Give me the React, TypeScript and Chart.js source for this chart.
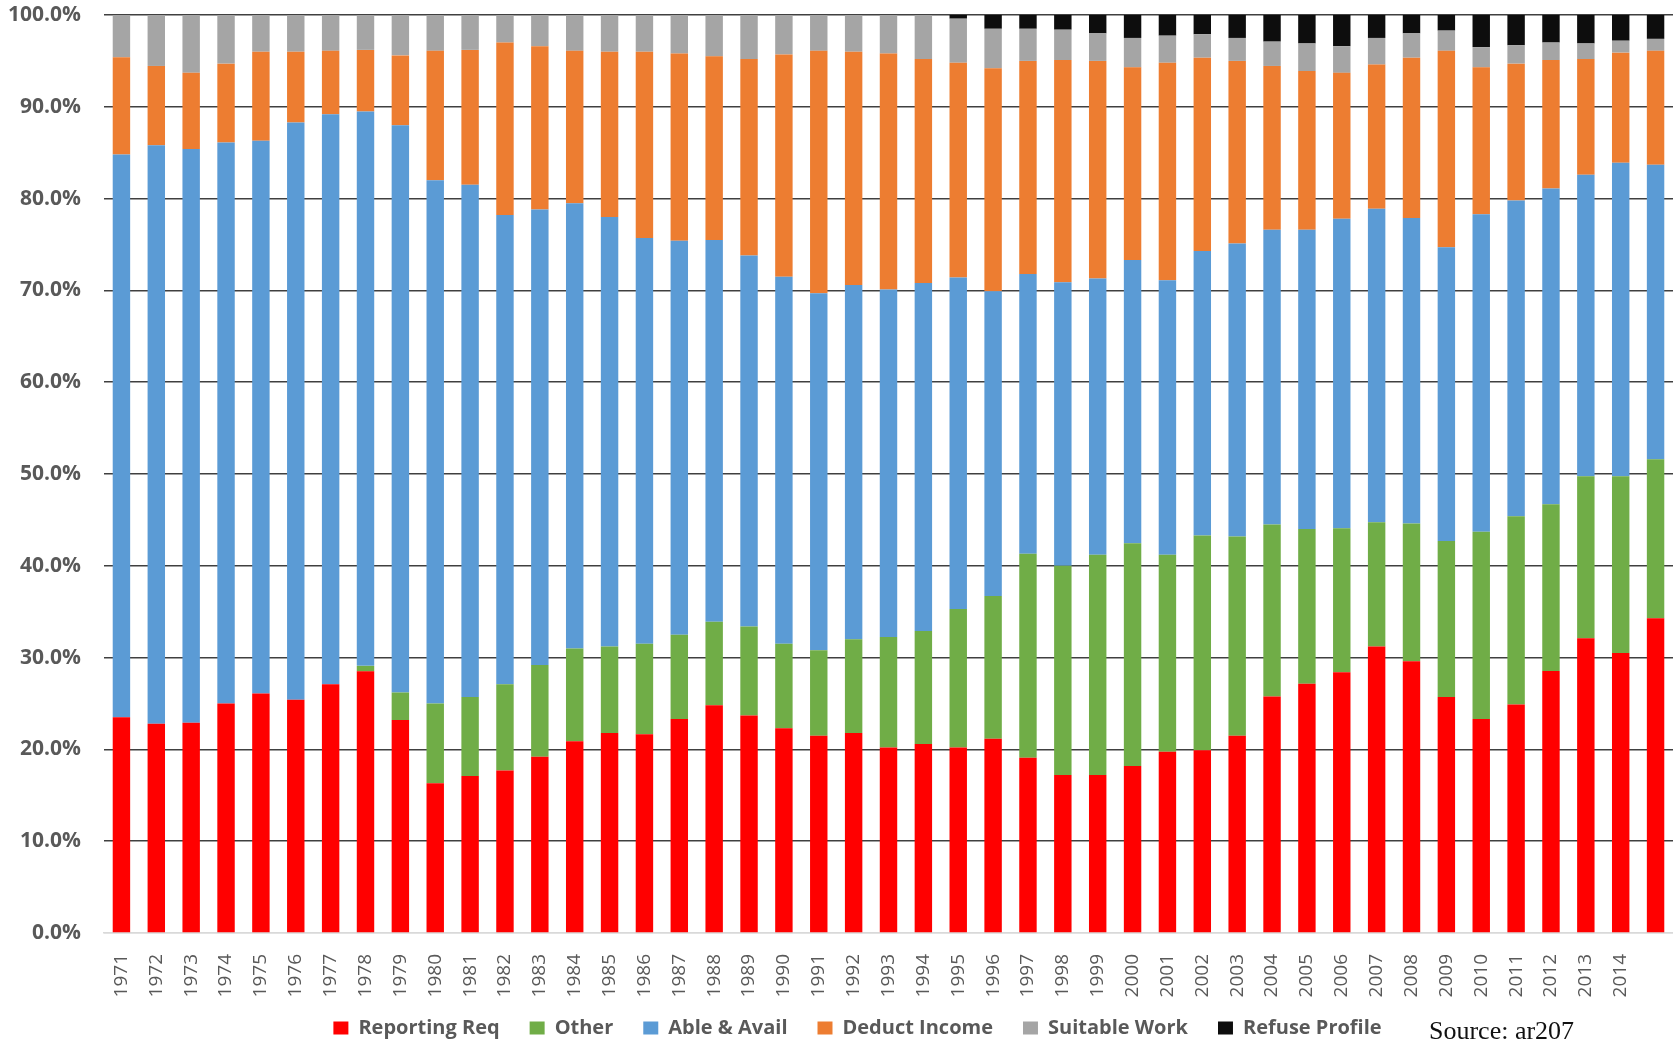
import React, { useEffect, useRef } from 'react';
import { Chart, registerables } from 'chart.js';

Chart.register(...registerables);

const years = [
  '1971', '1972', '1973', '1974', '1975', '1976', '1977', '1978', '1979', '1980',
  '1981', '1982', '1983', '1984', '1985', '1986', '1987', '1988', '1989', '1990',
  '1991', '1992', '1993', '1994', '1995', '1996', '1997', '1998', '1999', '2000',
  '2001', '2002', '2003', '2004', '2005', '2006', '2007', '2008', '2009', '2010',
  '2011', '2012', '2013', '2014', '',
];

const reportingReq = [
  23.5, 22.8, 22.9, 25.0, 26.1, 25.4, 27.1, 28.5, 23.2, 16.3,
  17.1, 17.7, 19.2, 20.9, 21.8, 21.65, 23.3, 24.8, 23.7, 22.3,
  21.5, 21.8, 20.2, 20.6, 20.2, 21.15, 19.1, 17.2, 17.2, 18.2,
  19.75, 19.9, 21.5, 25.75, 27.15, 28.4, 31.2, 29.6, 25.7, 23.3,
  24.9, 28.55, 32.1, 30.5, 34.3,
];

const other = [
  0, 0, 0, 0, 0, 0, 0, 0.6, 3.0, 8.7,
  8.6, 9.4, 10.0, 10.1, 9.4, 9.85, 9.2, 9.1, 9.7, 9.2,
  9.3, 10.2, 12.05, 12.3, 15.1, 15.55, 22.2, 22.8, 24.0, 24.25,
  21.45, 23.4, 21.7, 18.75, 16.85, 15.7, 13.55, 15.0, 17.0, 20.4,
  20.5, 18.15, 17.65, 19.25, 17.3,
];

const ableAvail = [
  61.3, 63.0, 62.5, 61.1, 60.2, 62.9, 62.1, 60.4, 61.8, 57.0,
  55.8, 51.1, 49.6, 48.5, 46.8, 44.2, 42.9, 41.6, 40.4, 40.0,
  38.9, 38.6, 37.85, 37.9, 36.1, 33.2, 30.5, 30.9, 30.1, 30.85,
  29.9, 31.0, 31.9, 32.1, 32.6, 33.7, 34.15, 33.3, 32.0, 34.6,
  34.4, 34.4, 32.85, 34.15, 32.1,
];

const deductIncome = [
  10.6, 8.65, 8.3, 8.6, 9.7, 7.7, 6.9, 6.7, 7.6, 14.1,
  14.7, 18.8, 17.8, 16.6, 18.0, 20.3, 20.4, 20.0, 21.4, 24.2,
  26.4, 25.4, 25.7, 24.4, 23.4, 24.3, 23.2, 24.2, 23.7, 21.0,
  23.7, 21.05, 19.9, 17.85, 17.3, 15.9, 15.7, 17.45, 21.4, 16.0,
  14.9, 14.0, 12.6, 12.0, 12.4,
];

const suitableWork = [
  4.6, 5.55, 6.3, 5.3, 4.0, 4.0, 3.9, 3.8, 4.4, 3.9,
  3.8, 3.0, 3.4, 3.9, 4.0, 4.0, 4.2, 4.5, 4.8, 4.3,
  3.9, 4.0, 4.2, 4.8, 4.8, 4.3, 3.5, 3.3, 3.0, 3.2,
  2.95, 2.55, 2.5, 2.65, 3.0, 2.9, 2.9, 2.65, 2.2, 2.2,
  2.0, 1.9, 1.7, 1.3, 1.3,
];

const refuseProfile = [
  0, 0, 0, 0, 0, 0, 0, 0, 0, 0,
  0, 0, 0, 0, 0, 0, 0, 0, 0, 0,
  0, 0, 0, 0, 0.4, 1.5, 1.5, 1.6, 2.0, 2.5,
  2.25, 2.1, 2.5, 2.9, 3.1, 3.4, 2.5, 2.0, 1.7, 3.5,
  3.3, 3.0, 3.1, 2.8, 2.6,
];

const seriesNames = ['Reporting Req', 'Other', 'Able & Avail', 'Deduct Income', 'Suitable Work', 'Refuse Profile'];
const seriesColors = ['#FF0000', '#70AD47', '#5B9BD5', '#ED7D31', '#A5A5A5', '#0D0D0D'];
const yTickValues = [0, 10, 20, 30, 40, 50, 60, 70, 80, 90, 100];

const legendShift = {
  id: 'legendShift',
  afterLayout(chart: any) {
    const lg = chart.legend;
    if (lg) {
      lg.left += 21;
      lg.right += 21;
      lg.top -= 12;
      lg.bottom -= 12;
    }
  },
};

export default function App() {
  const canvasRef = useRef<HTMLCanvasElement>(null);

  useEffect(() => {
    const seriesData = [reportingReq, other, ableAvail, deductIncome, suitableWork, refuseProfile];
    const chart = new Chart(canvasRef.current!, {
      type: 'bar',
      data: {
        labels: years,
        datasets: seriesData.map((d, i) => ({
          label: seriesNames[i],
          data: d,
          backgroundColor: seriesColors[i],
          borderWidth: 0,
          barPercentage: 0.5,
          categoryPercentage: 1.0,
        })),
      },
      plugins: [legendShift],
      options: {
        responsive: false,
        animation: false,
        layout: { padding: { left: 0, top: 15, right: 0, bottom: -20 } },
        plugins: {
          tooltip: { enabled: false },
          legend: {
            position: 'bottom',
            labels: {
              boxWidth: 15,
              boxHeight: 13,
              padding: 30,
              color: '#595959',
              font: { family: 'Open Sans', size: 20, weight: 'bold' },
            },
          },
        },
        scales: {
          x: {
            stacked: true,
            grid: { display: false },
            border: { display: true, color: '#D9D9D9', width: 1.5 },
            ticks: {
              autoSkip: false,
              minRotation: 90,
              maxRotation: 90,
              padding: 13,
              color: '#595959',
              font: { family: 'Open Sans', size: 19 },
            },
            afterFit: (s: any) => {
              s.height = 67;
              s.paddingLeft = 0;
              s.paddingRight = 0;
              s.paddingTop = 0;
              s.paddingBottom = 0;
            },
          },
          y: {
            stacked: true,
            min: 0,
            max: 100,
            afterBuildTicks: (s: any) => { s.ticks = yTickValues.map((v) => ({ value: v })); },
            grid: {
              drawTicks: false,
              lineWidth: 1.5,
              color: (ctx: any) => (ctx.tick && ctx.tick.value === 0 ? '#D9D9D9' : '#404040'),
            },
            border: { display: false },
            ticks: {
              padding: 23,
              color: '#595959',
              font: { family: 'Open Sans', size: 21, weight: 'bold' },
              callback: (v: any) => Number(v).toFixed(1) + '%',
            },
            afterFit: (s: any) => {
              s.width = 104;
              s.paddingTop = 0;
              s.paddingBottom = 0;
            },
          },
        },
      },
    });
    return () => chart.destroy();
  }, []);

  return (
    <div
      style={{
        position: 'fixed',
        left: 0,
        top: 0,
        width: 1673,
        height: 1040,
        overflow: 'hidden',
        background: '#ffffff',
      }}
    >
      <canvas
        ref={canvasRef}
        width={1673}
        height={1040}
        style={{ position: 'absolute', left: 0, top: 0, width: 1673, height: 1040 }}
      />
      <div
        style={{
          position: 'absolute',
          left: 1429,
          top: 1018,
          fontFamily: '"Liberation Serif", "Times New Roman", serif',
          fontSize: 26,
          lineHeight: '26px',
          color: '#111111',
          whiteSpace: 'nowrap',
        }}
      >
        Source: ar207
      </div>
    </div>
  );
}
